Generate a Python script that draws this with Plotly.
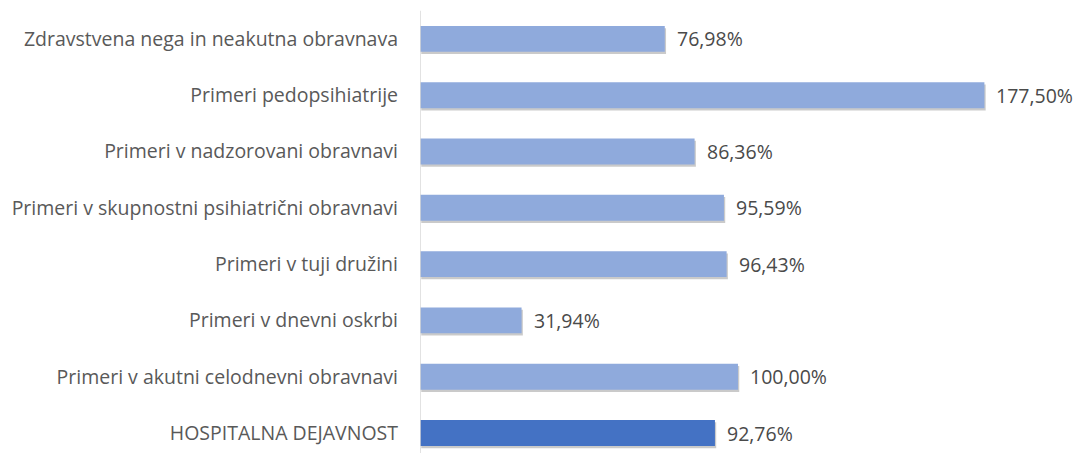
import plotly.graph_objects as go

# categories from bottom to top (as plotted)
categories = [
    "HOSPITALNA DEJAVNOST",
    "Primeri v akutni celodnevni obravnavi",
    "Primeri v dnevni oskrbi",
    "Primeri v tuji družini",
    "Primeri v skupnostni psihiatrični obravnavi",
    "Primeri v nadzorovani obravnavi",
    "Primeri pedopsihiatrije",
    "Zdravstvena nega in neakutna obravnava",
]
values = [92.76, 100.00, 31.94, 96.43, 95.59, 86.36, 177.50, 76.98]

_light = "#8faadc"
_dark = "#4472c4"
_text_gray = "#595959"
_value_gray = "#4a4a4a"
_font = "Open Sans"

bar_colors = [_dark] + [_light] * (len(values) - 1)
labels = [f"{v:.2f}%".replace(".", ",") for v in values]

fig = go.Figure()

# soft shadow under the bars
fig.add_trace(
    go.Bar(
        y=categories,
        x=values,
        base=0.4,
        orientation="h",
        width=0.46,
        offset=-0.27,
        marker=dict(color="rgba(80,80,80,0.30)", line=dict(width=0)),
        hoverinfo="skip",
        showlegend=False,
    )
)

fig.add_trace(
    go.Bar(
        y=categories,
        x=values,
        orientation="h",
        width=0.46,
        offset=-0.23,
        marker=dict(color=bar_colors, line=dict(width=0)),
        showlegend=False,
    )
)

annotations = []
for c, v, t in zip(categories, values, labels):
    annotations.append(
        dict(
            x=v,
            y=c,
            text=t,
            showarrow=False,
            xanchor="left",
            yanchor="middle",
            xshift=10,
            font=dict(family=_font, size=19.5, color=_value_gray),
        )
    )

# the page body has an 8px margin, so the figure is a bit smaller
fig.update_layout(
    width=1074,
    height=445,
    margin=dict(l=412, r=0, t=0, b=0, autoexpand=False),
    paper_bgcolor="white",
    plot_bgcolor="white",
    barmode="overlay",
    xaxis=dict(
        range=[0, 208.2],
        showgrid=False,
        zeroline=False,
        showline=False,
        showticklabels=False,
        fixedrange=True,
    ),
    yaxis=dict(
        type="category",
        range=[-0.355, 7.549],
        showgrid=False,
        zeroline=False,
        showline=False,
        ticks="",
        ticklabelstandoff=21,
        tickfont=dict(family=_font, size=19.5, color=_text_gray),
        fixedrange=True,
    ),
    shapes=[
        dict(
            type="line",
            xref="x",
            yref="y",
            x0=0,
            x1=0,
            y0=-0.355,
            y1=7.5,
            line=dict(color="#d9d9d9", width=1.5),
        )
    ],
    annotations=annotations,
)

fig.write_html("out.html")
